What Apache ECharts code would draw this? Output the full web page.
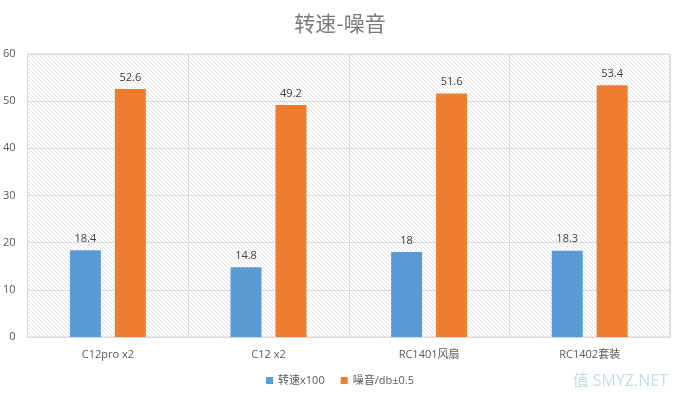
<!DOCTYPE html>
<html>
<head>
<meta charset="UTF-8">
<title>转速-噪音</title>
<script src="https://cdn.jsdelivr.net/npm/echarts@6/dist/echarts.min.js"></script>
<style>
  html, body { margin: 0; padding: 0; background: #fff; }
  #main { width: 680px; height: 397px; }
</style>
</head>
<body>
<div id="main"></div>
<script>
var categories = ['C12pro x2', 'C12 x2', 'RC1401风扇', 'RC1402套装'];
var speedValues = [18.4, 14.8, 18, 18.3];
var noiseValues = [52.6, 49.2, 51.6, 53.4];
var seriesNames = ['转速x100', '噪音/db±0.5'];

// diagonal hatch for the plot background
var hatch = document.createElement('canvas');
hatch.width = 4;
hatch.height = 4;
var hc = hatch.getContext('2d');
hc.fillStyle = '#ffffff';
hc.fillRect(0, 0, 4, 4);
hc.strokeStyle = '#e2e2e2';
hc.lineWidth = 1;
hc.beginPath();
hc.moveTo(-1, -1); hc.lineTo(5, 5);
hc.moveTo(-1, 3); hc.lineTo(1, 5);
hc.moveTo(3, -1); hc.lineTo(5, 1);
hc.stroke();

var font = '"Open Sans", "Noto Sans CJK SC", sans-serif';
var chart = echarts.init(document.getElementById('main'));

chart.setOption({
    animation: false,
    title: {
        text: '转速-噪音',
        left: 'center',
        top: 8,
        textStyle: { fontSize: 21, fontWeight: 'normal', color: '#7a7a7a', fontFamily: '"Noto Sans CJK SC", sans-serif' }
    },
    legend: {
        bottom: 6,
        left: 'center',
        itemWidth: 7,
        itemHeight: 7,
        itemGap: 16,
        icon: 'rect',
        textStyle: { fontSize: 11, color: '#595959', fontFamily: font },
        data: seriesNames
    },
    grid: {
        left: 27,
        right: 10,
        top: 54,
        bottom: 60,
        show: true,
        borderColor: '#d9d9d9',
        borderWidth: 1,
        backgroundColor: { image: hatch, repeat: 'repeat' }
    },
    xAxis: {
        type: 'category',
        data: categories,
        axisTick: { show: false },
        axisLine: { lineStyle: { color: '#d9d9d9' } },
        axisLabel: { fontSize: 11, color: '#595959', margin: 12, fontFamily: font },
        splitLine: { show: true, lineStyle: { color: '#d9d9d9' } }
    },
    yAxis: {
        type: 'value',
        min: 0,
        max: 60,
        interval: 10,
        axisLine: { show: false },
        axisTick: { show: false },
        axisLabel: { fontSize: 11, color: '#595959', margin: 12, fontFamily: font },
        splitLine: { lineStyle: { color: '#d9d9d9' } }
    },
    series: [
        {
            name: seriesNames[0],
            type: 'bar',
            data: speedValues,
            barWidth: 31,
            barGap: '45%',
            itemStyle: { color: '#5b9bd5' },
            label: { show: true, position: 'top', distance: 6, fontSize: 11, color: '#404040', fontFamily: font }
        },
        {
            name: seriesNames[1],
            type: 'bar',
            data: noiseValues,
            barWidth: 31,
            itemStyle: { color: '#ed7d31' },
            label: { show: true, position: 'top', distance: 6, fontSize: 11, color: '#404040', fontFamily: font }
        }
    ],
    graphic: [
        {
            type: 'text',
            right: 12,
            bottom: 8,
            style: { text: '值 SMYZ.NET', fontSize: 16, fill: 'rgba(120,180,190,0.45)', fontFamily: font }
        }
    ]
});
</script>
</body>
</html>
